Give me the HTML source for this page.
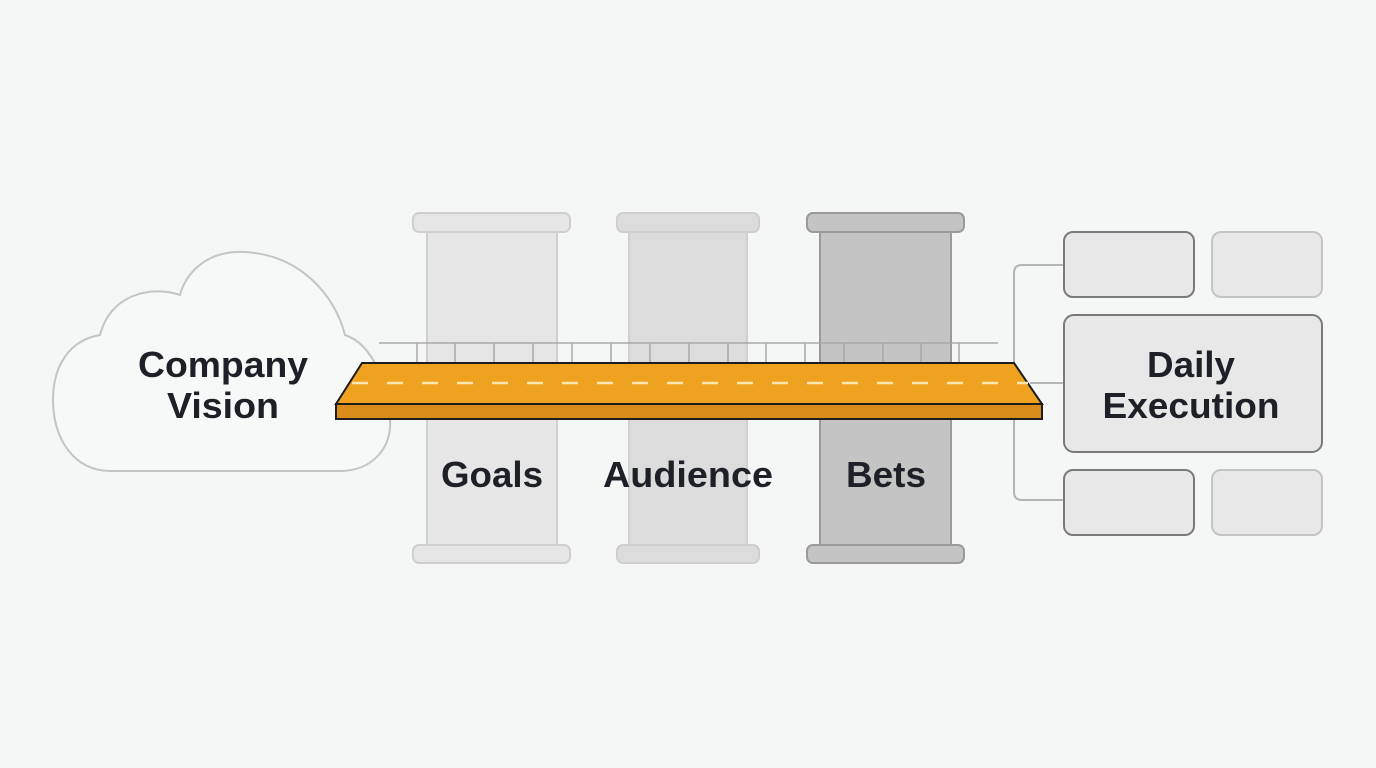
<!DOCTYPE html>
<html><head><style>
body{margin:0;background:#f5f6f6;}
svg{display:block}
text{font-family:"Liberation Sans",sans-serif;font-weight:bold;fill:#1d2026;text-anchor:middle}
</style></head><body>
<svg width="1376" height="768" viewBox="0 0 1376 768">
<rect width="1376" height="768" fill="#f5f6f6"/>
<!-- cloud -->
<path d="M110,471 L340,471 C372,471 392,448 390,420 C389,390 375,345 345,335 C335,295 300,255 245,252 C205,250 185,275 180,295 C150,285 110,295 100,335 C70,340 53,365 53,400 C53,440 75,471 110,471 Z" fill="#f7f8f8" stroke="#c4c4c4" stroke-width="2"/>
<text x="223" y="377" font-size="36" textLength="170" lengthAdjust="spacingAndGlyphs">Company</text>
<text x="223" y="418" font-size="36" textLength="112" lengthAdjust="spacingAndGlyphs">Vision</text>
<!-- pillars -->
<g stroke="#cfcfcf" stroke-width="2">
<rect x="427" y="228" width="130" height="320" fill="#e6e6e6"/>
<rect x="413" y="213" width="157" height="19" rx="6" fill="#e6e6e6"/>
<rect x="413" y="545" width="157" height="18" rx="6" fill="#e6e6e6"/>
<rect x="629" y="228" width="118" height="320" fill="#dcdcdc"/>
<rect x="617" y="213" width="142" height="19" rx="6" fill="#dcdcdc"/>
<rect x="617" y="545" width="142" height="18" rx="6" fill="#dcdcdc"/>
</g>
<g stroke="#9a9a9a" stroke-width="2">
<rect x="820" y="228" width="131" height="320" fill="#c4c4c4"/>
<rect x="807" y="213" width="157" height="19" rx="6" fill="#c4c4c4"/>
<rect x="807" y="545" width="157" height="18" rx="6" fill="#c4c4c4"/>
</g>
<text x="492" y="487" font-size="36" textLength="102" lengthAdjust="spacingAndGlyphs">Goals</text>
<text x="688" y="487" font-size="36" textLength="170" lengthAdjust="spacingAndGlyphs">Audience</text>
<text x="886" y="487" font-size="36" textLength="80" lengthAdjust="spacingAndGlyphs">Bets</text>
<!-- railing -->
<g stroke="#a8a8a8" stroke-width="1.5">
<line x1="379" y1="343" x2="998" y2="343"/>
<line x1="417" y1="343" x2="417" y2="363"/><line x1="455" y1="343" x2="455" y2="363"/><line x1="494" y1="343" x2="494" y2="363"/><line x1="533" y1="343" x2="533" y2="363"/><line x1="572" y1="343" x2="572" y2="363"/><line x1="611" y1="343" x2="611" y2="363"/><line x1="650" y1="343" x2="650" y2="363"/><line x1="689" y1="343" x2="689" y2="363"/><line x1="728" y1="343" x2="728" y2="363"/><line x1="766" y1="343" x2="766" y2="363"/><line x1="805" y1="343" x2="805" y2="363"/><line x1="844" y1="343" x2="844" y2="363"/><line x1="883" y1="343" x2="883" y2="363"/><line x1="921" y1="343" x2="921" y2="363"/><line x1="959" y1="343" x2="959" y2="363"/>
</g>
<!-- connectors -->
<g stroke="#b4b4b4" stroke-width="2" fill="none">
<path d="M1064,265 L1022,265 Q1014,265 1014,273 L1014,492 Q1014,500 1022,500 L1064,500"/>
<line x1="1030" y1="383" x2="1064" y2="383"/>
</g>
<!-- road -->
<polygon points="362,363 1014,363 1042,404 336,404" fill="#efa220" stroke="#1d1d1d" stroke-width="2"/>
<rect x="336" y="404" width="706" height="15" fill="#d98c1a" stroke="#1d1d1d" stroke-width="2"/>
<line x1="352" y1="383" x2="1028" y2="383" stroke="#fbe6b0" stroke-width="2.5" stroke-dasharray="16,19"/>
<!-- boxes -->
<g stroke-width="2">
<rect x="1064" y="232" width="130" height="65" rx="9" fill="#e8e8e8" stroke="#7a7a7a"/>
<rect x="1212" y="232" width="110" height="65" rx="9" fill="#e8e8e8" stroke="#c4c4c4"/>
<rect x="1064" y="315" width="258" height="137" rx="10" fill="#e8e8e8" stroke="#7a7a7a"/>
<rect x="1064" y="470" width="130" height="65" rx="9" fill="#e8e8e8" stroke="#7a7a7a"/>
<rect x="1212" y="470" width="110" height="65" rx="9" fill="#e8e8e8" stroke="#c4c4c4"/>
</g>
<text x="1191" y="377" font-size="36" textLength="88" lengthAdjust="spacingAndGlyphs">Daily</text>
<text x="1191" y="418" font-size="36" textLength="177" lengthAdjust="spacingAndGlyphs">Execution</text>
</svg>
</body></html>
